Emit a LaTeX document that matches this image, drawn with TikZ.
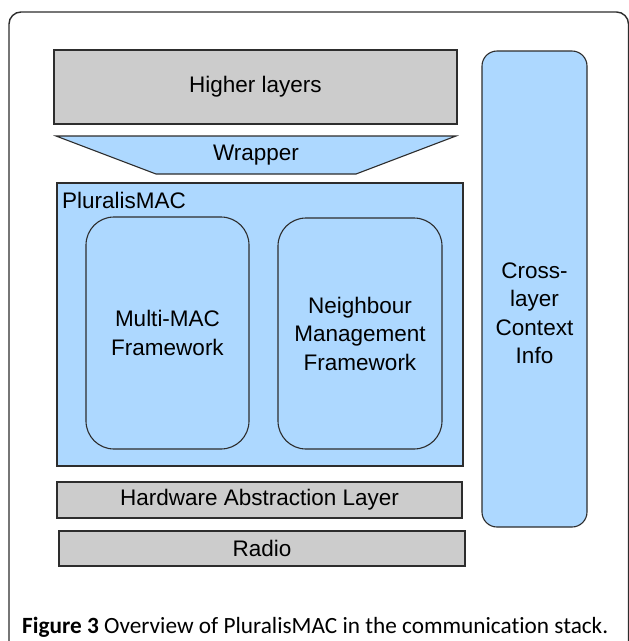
\documentclass[tikz,border=0pt]{standalone}
\usepackage{fontspec}
\setmainfont{Liberation Sans}
\newfontfamily\capfont[Ligatures=NoCommon]{Carlito}
\definecolor{layergray}{RGB}{204,204,204}
\definecolor{macblue}{RGB}{173,216,255}
\definecolor{edgecol}{RGB}{45,45,45}
\tikzset{
  boxtext/.style={font=\fontsize{22.5}{28.5}\selectfont, align=center, text=black},
  graylayer/.style={draw=edgecol, line width=1.1pt, fill=layergray, boxtext, inner sep=0pt},
  bluelayer/.style={draw=edgecol, line width=1.1pt, fill=macblue, boxtext, inner sep=0pt},
  roundframe/.style={bluelayer, rounded corners=28pt},
}
\begin{document}
\begin{tikzpicture}[x=1pt,y=-1pt]
\useasboundingbox (0,0) rectangle (629,641);
\fill[white] (0,0) rectangle (629,641);

% outer figure frame, running off the right and bottom edges
\begin{scope}
  \clip (0,0) rectangle (629,641);
  \draw[edgecol, line width=1.4pt, rounded corners=12pt] (9,12) rectangle (628.5,720);
\end{scope}

% stack layers
\node[graylayer, minimum width=403pt, minimum height=74pt] (higher) at (255.5,87) {Higher layers};

\coordinate (wtl) at (56,136);
\coordinate (wtr) at (456,136);
\coordinate (wbr) at (356,174);
\coordinate (wbl) at (156,174);
\draw[edgecol, line width=1.1pt, fill=macblue] (wtl) -- (wtr) -- (wbr) -- (wbl) -- cycle;
\node[boxtext] (wrapper) at (256,155) {Wrapper};

\node[bluelayer, minimum width=406pt, minimum height=283pt] (plmac) at (260,324.5) {};
\node[boxtext, anchor=base west, inner sep=0pt] (plmaclabel) at (62,208) {PluralisMAC};

\node[roundframe, minimum width=163pt, minimum height=232pt] (multimac) at (167.5,333) {Multi-MAC\\Framework};
\node[roundframe, minimum width=164pt, minimum height=231pt] (neigh) at (360,333.5) {Neighbour\\Management\\Framework};

\node[graylayer, minimum width=405pt, minimum height=36pt] (hal) at (259.5,500) {Hardware Abstraction Layer};
\node[graylayer, minimum width=406pt, minimum height=35pt] (radio) at (262,548.5) {Radio};

% cross-layer column
\node[bluelayer, rounded corners=15pt, minimum width=105pt, minimum height=476pt] (cross) at (534.5,289) {};
\node[boxtext] (crosstext) at (534.5,313) {Cross-\\layer\\Context\\Info};

% caption
\node[anchor=base west, inner sep=0pt] (caption) at (22,633)
  {\resizebox{586pt}{!}{\capfont\fontsize{22}{26}\selectfont\textbf{Figure 3} Overview of PluralisMAC in the communication stack.}};
\end{tikzpicture}
\end{document}
